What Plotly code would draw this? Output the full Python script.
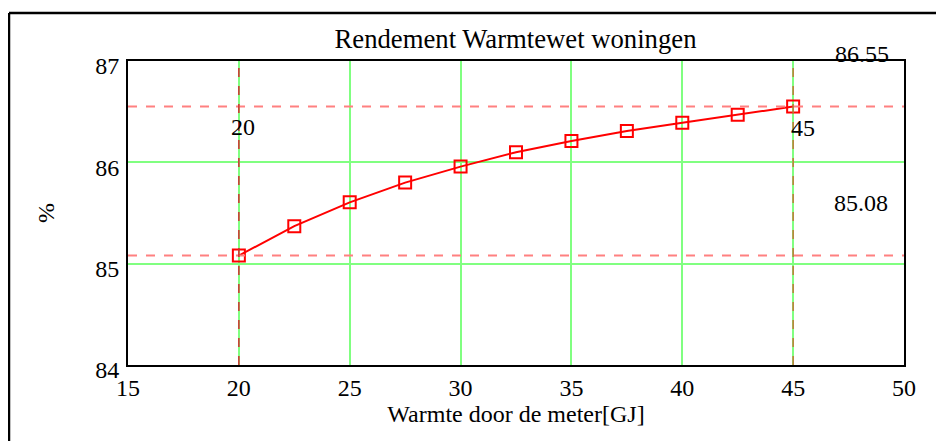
import plotly.graph_objects as go

# Data
heat_gj = [20, 22.5, 25, 27.5, 30, 32.5, 35, 37.5, 40, 42.5, 45]
efficiency_pct = [85.08, 85.37, 85.605, 85.80, 85.958, 86.10, 86.21, 86.31, 86.39, 86.47, 86.55]

x_ticks = [15, 20, 25, 30, 35, 40, 45, 50]
y_ticks = [84, 85, 86, 87]

marker_x = [20, 45]
marker_y = [85.08, 86.55]

title_text = "Rendement Warmtewet woningen"
x_title = "Warmte door de meter[GJ]"
y_title = "%"

FONT = "Liberation Serif, Times New Roman, serif"
W, H = 944, 441
OFF = 8  # page offset of the figure (body margin)
L, R, T, B = 120, 48, 53, 84
PW, PH = W - L - R, H - T - B


def px_x(px):
    """page x pixel -> paper coordinate"""
    return (px - OFF - L) / PW


def px_y(py):
    """page y pixel -> paper coordinate"""
    return (H - B - (py - OFF)) / PH


fig = go.Figure()

fig.add_trace(go.Scatter(
    x=heat_gj, y=efficiency_pct, mode="lines+markers",
    line=dict(color="#ff0000", width=2),
    marker=dict(symbol="square-open", size=12, color="#ff0000",
                line=dict(color="#ff0000", width=2)),
    showlegend=False, hoverinfo="x+y",
))

shapes = []
# horizontal marker lines
for yv in marker_y:
    shapes.append(dict(type="line", xref="paper", yref="y", x0=0, x1=1, y0=yv, y1=yv,
                       line=dict(color="#ff8080", width=2, dash="dash"), layer="above"))
# vertical marker lines
vcolors = ["#d03030", "#c07838"]
for xv, c in zip(marker_x, vcolors):
    shapes.append(dict(type="line", xref="x", yref="paper", x0=xv, x1=xv, y0=0, y1=1,
                       line=dict(color=c, width=1.5, dash="dash"), layer="above"))
# outer frame (left and top edges; right/bottom lie outside the window)
frame_line = dict(color="black", width=2.5)
shapes.append(dict(type="line", xref="paper", yref="paper",
                   x0=px_x(9), x1=px_x(9), y0=px_y(470), y1=px_y(13), line=frame_line))
shapes.append(dict(type="line", xref="paper", yref="paper",
                   x0=px_x(9), x1=px_x(1000), y0=px_y(13), y1=px_y(13), line=frame_line))

annotations = [
    dict(x=marker_x[0], y=px_y(127), xref="x", yref="paper", text=f"{marker_x[0]}",
         showarrow=False, xanchor="left", yanchor="middle", xshift=-10,
         font=dict(family=FONT, size=24, color="black")),
    dict(x=marker_x[1], y=px_y(128), xref="x", yref="paper", text=f"{marker_x[1]}",
         showarrow=False, xanchor="left", yanchor="middle", xshift=-4,
         font=dict(family=FONT, size=24, color="black")),
    dict(x=px_x(833), y=px_y(54), xref="paper", yref="paper", text=f"{marker_y[1]:.2f}",
         showarrow=False, xanchor="left", yanchor="middle",
         font=dict(family=FONT, size=24, color="black")),
    dict(x=px_x(832), y=px_y(203), xref="paper", yref="paper", text=f"{marker_y[0]:.2f}",
         showarrow=False, xanchor="left", yanchor="middle",
         font=dict(family=FONT, size=24, color="black")),
]

fig.update_layout(
    width=W, height=H,
    margin=dict(l=L, r=R, t=T, b=B, pad=0, autoexpand=False),
    paper_bgcolor="white", plot_bgcolor="white",
    font=dict(family=FONT, size=24, color="black"),
    title=dict(text=title_text, x=(515.5 - OFF) / W, xanchor="center",
               y=1 - (39 - OFF) / H, yanchor="middle", automargin=False,
               font=dict(family=FONT, size=26.7, color="black")),
    shapes=shapes,
    annotations=annotations,
    showlegend=False,
)

fig.update_xaxes(
    range=[15, 50], tickvals=x_ticks, ticktext=[str(v) for v in x_ticks],
    showgrid=True, gridcolor="#80ff80", gridwidth=1.5,
    showline=True, linecolor="black", linewidth=2, mirror=True,
    zeroline=False, ticks="", ticklabelstandoff=0, automargin=False,
    tickfont=dict(family=FONT, size=24, color="black"),
    title=dict(text=x_title, standoff=4, font=dict(family=FONT, size=24, color="black")),
)
fig.update_yaxes(
    range=[84, 87], tickvals=y_ticks, ticktext=[str(v) for v in y_ticks],
    showgrid=True, gridcolor="#80ff80", gridwidth=2,
    showline=True, linecolor="black", linewidth=2, mirror=True,
    zeroline=False, ticks="", ticklabelstandoff=2, ticklabelshift=5, automargin=False,
    tickfont=dict(family=FONT, size=24, color="black"),
    title=dict(text=y_title, standoff=34, font=dict(family=FONT, size=24, color="black")),
)

fig.write_html("out.html", post_script="document.body.style.overflow='hidden';")
